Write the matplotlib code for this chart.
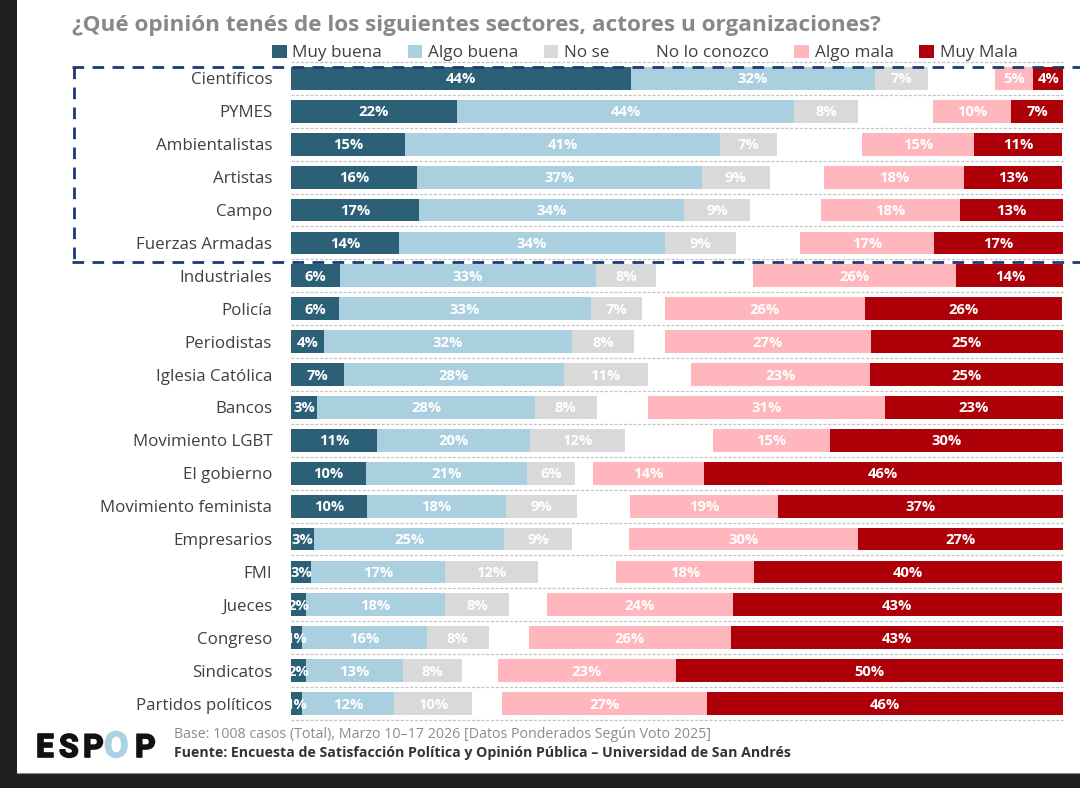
import numpy as np
import matplotlib
matplotlib.use("Agg")
import matplotlib.pyplot as plt
import matplotlib.patheffects as pe
from matplotlib.lines import Line2D
from matplotlib.patches import Rectangle

categories = ["Científicos", "PYMES", "Ambientalistas", "Artistas", "Campo", "Fuerzas Armadas",
              "Industriales", "Policía", "Periodistas", "Iglesia Católica", "Bancos", "Movimiento LGBT",
              "El gobierno", "Movimiento feminista", "Empresarios", "FMI", "Jueces", "Congreso",
              "Sindicatos", "Partidos políticos"]
series_names = ["Muy buena", "Algo buena", "No se", "No lo conozco", "Algo mala", "Muy Mala"]
muy_buena = [44.0, 21.5, 14.8, 16.3, 16.6, 14.0, 6.3, 6.2, 4.3, 6.9, 3.4, 11.1, 9.7, 9.8, 3.0, 2.6, 1.9, 1.4, 1.9, 1.4]
algo_buena = [31.6, 43.7, 40.8, 36.9, 34.3, 34.4, 33.2, 32.6, 32.1, 28.4, 28.2, 19.8, 20.9, 18.0, 24.6, 17.4, 18.0, 16.2, 12.6, 12.0]
no_se = [6.9, 8.3, 7.4, 8.8, 8.6, 9.3, 7.8, 6.7, 8.0, 10.9, 8.0, 12.4, 6.2, 9.2, 8.8, 12.0, 8.4, 8.0, 7.6, 10.0]
no_conozco = [8.7, 9.6, 10.9, 7.1, 9.1, 8.2, 12.6, 3.0, 4.0, 5.6, 6.7, 11.3, 2.3, 6.9, 7.4, 10.1, 4.9, 5.2, 4.7, 3.9]
algo_mala = [4.9, 10.2, 14.6, 18.1, 18.1, 17.4, 26.3, 25.8, 26.7, 23.2, 30.6, 15.2, 14.4, 19.2, 29.6, 17.9, 24.0, 26.2, 23.1, 26.6]
muy_mala = [4.0, 6.7, 11.4, 12.7, 13.3, 16.7, 13.9, 25.6, 24.9, 25.0, 23.1, 30.2, 46.4, 36.9, 26.7, 39.9, 42.7, 43.0, 50.1, 46.1]
series_values = [muy_buena, algo_buena, no_se, no_conozco, algo_mala, muy_mala]
colors = ["#2b6076", "#aad0e0", "#d9d9d9", "#ffffff", "#ffb6bd", "#ad0009"]

title = "¿Qué opinión tenés de los siguientes sectores, actores u organizaciones?"
base_note = "Base: 1008 casos (Total), Marzo 10–17 2026 [Datos Ponderados Según Voto 2025]"
source_note = "Fuente: Encuesta de Satisfacción Política y Opinión Pública – Universidad de San Andrés"

W, H = 1080, 788
FONT = "Open Sans"
plt.rcParams["font.family"] = [FONT, "DejaVu Sans"]
fig = plt.figure(figsize=(W / 100, H / 100), dpi=100, facecolor="#1f1f1f")
fx = lambda x: x / W
fy = lambda y: 1 - y / H

fig.add_artist(Rectangle((fx(17), fy(773)), fx(W - 17), 773 / H, transform=fig.transFigure,
                         facecolor="white", edgecolor="none", zorder=-5))
fig.add_artist(Line2D([fx(17), 1], [fy(773), fy(773)], transform=fig.transFigure, color="#8a8a8a", lw=0.8, zorder=-4))

ax = fig.add_axes([fx(291), fy(720), 772 / W, 658 / H], facecolor="none")
n = len(categories)
y = np.arange(n)
lefts = np.zeros(n)
for name, vals, col in zip(series_names, series_values, colors):
    vals = np.array(vals)
    bars = ax.barh(y, vals, left=lefts, height=0.69, color=col, label=name, zorder=2)
    if name != "No lo conozco":
        for v, l, yi in zip(vals, lefts, y):
            ax.text(l + v / 2, yi + 0.03, f"{v:.0f}%", ha="center", va="center", color="white",
                    fontsize=10.6, fontweight="bold", zorder=3, clip_on=False)
    lefts += vals
ax.set_xlim(0, 100)
ax.set_ylim(n - 0.5, -0.5)
ax.set_yticks(y, categories, fontsize=12.2, color="#404040")
ax.tick_params(axis="y", length=0, pad=13.5)
ax.set_xticks([])
for s in ax.spines.values():
    s.set_visible(False)
ax.hlines(np.arange(n + 1) - 0.5, 0, 100, color="#c4c4c4", lw=0.9, linestyles=(0, (2.4, 1.4)), zorder=1, clip_on=False)

fig.text(fx(72), fy(26), title, fontsize=16.2, fontweight="bold", color="#85898c", ha="left", va="center")

leg = fig.legend(*ax.get_legend_handles_labels(), loc="center left", bbox_to_anchor=(fx(272), fy(53)),
                 ncol=6, frameon=False, fontsize=12.3, handlelength=0.85, handleheight=0.85, handletextpad=0.35,
                 columnspacing=1.49, labelcolor="#404040", borderpad=0, borderaxespad=0)

# highlighted group outline
navy = "#1c3a73"
dash = (0, (4.2, 3.0))
for xs, ys in [((72, 1080), (67, 67)), ((72, 1080), (262, 262)), ((74, 74), (67, 262))]:
    fig.add_artist(Line2D([fx(v) for v in xs], [fy(v) for v in ys], transform=fig.transFigure,
                          color=navy, lw=2.0, linestyle=dash, zorder=10))

# logo
logo = [("E", 36, 23, "#111111"), ("S", 59, 23, "#111111"), ("P", 83, 23, "#111111"),
        ("O", 104, 25.5, "#a9d2e2"), ("P", 135, 23, "#111111")]
for ch, x, size, col in logo:
    fig.text(fx(x), fy(757), ch, fontsize=size, fontweight="bold", color=col, family="Roboto", ha="left", va="baseline",
             path_effects=[pe.withStroke(linewidth=1.2, foreground=col)])

fig.text(fx(174), fy(735), base_note, fontsize=10.25, color="#8c8c8c", ha="left", va="center")
fig.text(fx(174), fy(753), source_note, fontsize=10.17, fontweight="bold", color="#333333", ha="left", va="center")

fig.savefig("out.png", dpi=100, facecolor=fig.get_facecolor())
